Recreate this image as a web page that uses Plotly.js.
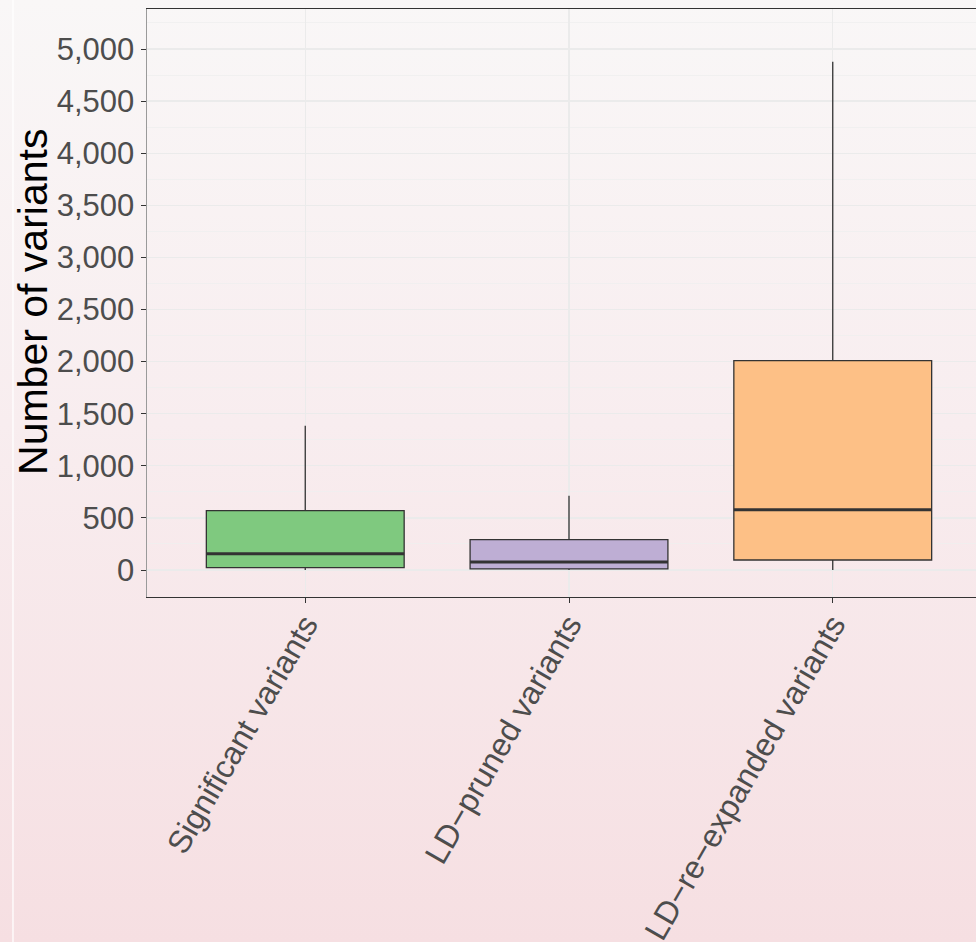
<!DOCTYPE html>
<html>
<head>
<meta charset="utf-8">
<script src="https://cdn.plot.ly/plotly-3.0.1.min.js"></script>
<style>
  html, body { margin: 0; padding: 0; width: 976px; height: 942px; overflow: hidden; }
  body { background: linear-gradient(to bottom, #f9f7f7 0%, #f8edef 45%, #f6dfe2 100%); }
  #chart { width: 991px; height: 942px; }
</style>
</head>
<body>
<div id="chart"></div>
<script>
// Summary statistics of variant counts per set
const categories = ["Significant variants", "LD\u2212pruned variants", "LD\u2212re\u2212expanded variants"];
const lowerWhisker = [0, 0, 0];
const q1Values = [22, 10, 96];
const medianValues = [156, 77, 579];
const q3Values = [569, 291, 2009];
const upperWhisker = [1385, 713, 4878];
const fillColors = ["#7fc97f", "#beaed4", "#fdc086"];
const yTickValues = [0, 500, 1000, 1500, 2000, 2500, 3000, 3500, 4000, 4500, 5000];
const yTitle = "Number of variants";

const boxWidth = 0.75;
const font = "Liberation Sans, Arial, sans-serif";

const traces = categories.map((name, i) => ({
  type: "box",
  name: name,
  x: [i],
  q1: [q1Values[i]],
  median: [medianValues[i]],
  q3: [q3Values[i]],
  lowerfence: [lowerWhisker[i]],
  upperfence: [upperWhisker[i]],
  width: boxWidth,
  whiskerwidth: 0,
  fillcolor: fillColors[i],
  line: { color: "#333333", width: 1.3 },
  boxpoints: false,
  hoverinfo: "skip",
  showlegend: false
}));

// Thick median bars drawn over each box
const shapes = categories.map((name, i) => ({
  type: "line", xref: "x", yref: "y",
  x0: i - boxWidth / 2, x1: i + boxWidth / 2,
  y0: medianValues[i], y1: medianValues[i],
  line: { color: "#333333", width: 3 }
}));

// Light frame edge at the left of the figure
shapes.push({
  type: "line", xref: "paper", yref: "paper",
  x0: -0.1588, x1: -0.1588, y0: -1, y1: 1.1,
  line: { color: "rgba(255,255,255,0.85)", width: 1.5 }
});

const layout = {
  width: 991,
  height: 942,
  margin: { l: 147, r: 0, t: 9, b: 345 },
  paper_bgcolor: "rgba(0,0,0,0)",
  plot_bgcolor: "rgba(0,0,0,0)",
  font: { family: font, color: "#4d4d4d" },
  boxmode: "overlay",
  xaxis: {
    range: [-0.6, 2.6],
    tickmode: "array",
    tickvals: categories.map((c, i) => i),
    ticktext: categories,
    tickangle: -60,
    tickfont: { size: 32, color: "#4d4d4d", family: font },
    ticks: "outside", ticklen: 5, tickcolor: "#333333", tickwidth: 1,
    ticklabelstandoff: -10,
    showgrid: true, gridcolor: "#ebebeb", gridwidth: 1.3,
    showline: true, linecolor: "#333333", linewidth: 1.3, mirror: true,
    zeroline: false,
    fixedrange: true
  },
  yaxis: {
    range: [-259, 5384],
    tickmode: "array",
    tickvals: yTickValues,
    tickformat: ",",
    tickfont: { size: 31, color: "#4d4d4d", family: font },
    ticks: "outside", ticklen: 5, tickcolor: "#333333", tickwidth: 1,
    showgrid: true, gridcolor: "#ebebeb", gridwidth: 1.3,
    minor: { dtick: 250, tick0: 250, showgrid: true, gridcolor: "#efefef", gridwidth: 0.8 },
    showline: true, linecolor: "#9a9a9a", linewidth: 1.5,
    zeroline: false,
    fixedrange: true
  },
  annotations: [{
    text: yTitle,
    xref: "paper", yref: "paper",
    x: -0.1345, y: 0.5026,
    xanchor: "center", yanchor: "middle",
    textangle: -90,
    showarrow: false,
    font: { size: 41, color: "#000000", family: font }
  }],
  shapes: shapes
};

Plotly.newPlot("chart", traces, layout, { displayModeBar: false, staticPlot: true });
</script>
</body>
</html>
